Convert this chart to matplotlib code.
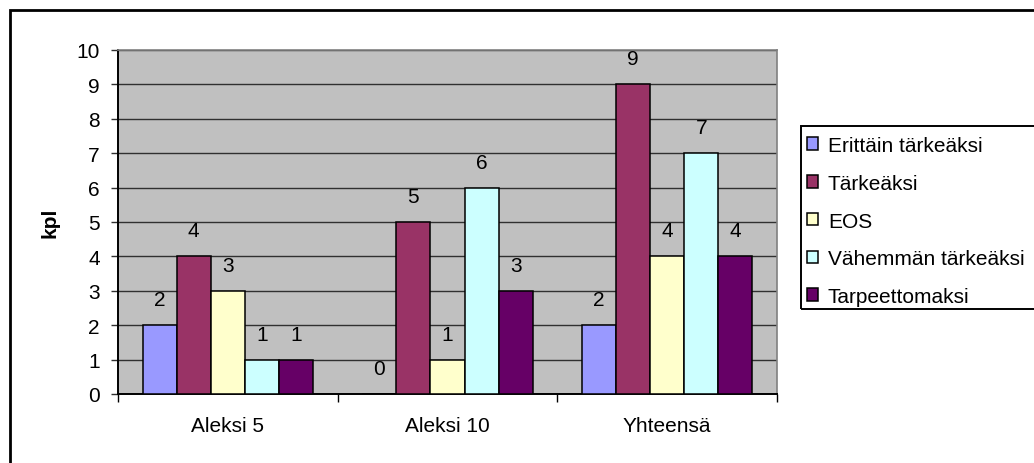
import matplotlib
matplotlib.use("Agg")
import matplotlib.pyplot as plt
from matplotlib.patches import Rectangle
import numpy as np

plt.rcParams['font.family'] = ['Liberation Sans', 'DejaVu Sans']

# survey answers per group
categories = ['Aleksi 5', 'Aleksi 10', 'Yhteensä']
series_names = ['Erittäin tärkeäksi', 'Tärkeäksi', 'EOS',
                'Vähemmän tärkeäksi', 'Tarpeettomaksi']
erittain = [2, 0, 2]
tarkea = [4, 5, 9]
eos = [3, 1, 4]
vahemman = [1, 6, 7]
tarpeeton = [1, 3, 4]
series_values = [erittain, tarkea, eos, vahemman, tarpeeton]
colors = ['#9999FF', '#993366', '#FFFFCC', '#CCFFFF', '#660066']

FS = 15
W, H = 1034, 464
fig = plt.figure(figsize=(W / 100, H / 100), dpi=100)
ax = fig.add_axes([118 / W, 1 - 395 / H, 659 / W, 344 / H])
ax.set_facecolor('#C0C0C0')

x = np.arange(len(categories))
bar_w = 0.155
for i, (name, vals, col) in enumerate(zip(series_names, series_values, colors)):
    pos = x + (i - 2) * bar_w
    ax.bar(pos, vals, width=bar_w, color=col, edgecolor='black',
           linewidth=1.1, label=name, zorder=3)
    for px, v in zip(pos, vals):
        ax.annotate(str(v), (px, v), xytext=(0, 20), textcoords='offset pixels',
                    ha='center', va='baseline', fontsize=FS, zorder=4)

ax.set_xlim(-0.5, 2.5)
ax.set_ylim(0, 10)
ax.set_yticks(range(0, 11))
ax.yaxis.grid(True, color='#303030', linewidth=1.0, zorder=1)
ax.tick_params(axis='y', direction='out', length=5, width=1, pad=8,
               labelsize=FS, color='#303030')

# category labels in the middle, tick marks between groups
ax.set_xticks(x)
ax.set_xticklabels(categories)
ax.set_xticks([-0.5, 0.5, 1.5, 2.5], minor=True)
ax.tick_params(axis='x', which='major', length=0, pad=16, labelsize=FS)
ax.tick_params(axis='x', which='minor', direction='out', length=6, width=1)

for side in ('top', 'right'):
    ax.spines[side].set_color('#808080')
    ax.spines[side].set_linewidth(1.2)
for side in ('left', 'bottom'):
    ax.spines[side].set_color('black')
    ax.spines[side].set_linewidth(1.4)

ax.set_ylabel('kpl', fontsize=FS, fontweight='bold')
ax.yaxis.set_label_coords(-0.089, 0.5)

# chart area border
fig.patches.append(Rectangle((10 / W, -0.1), 1.1, 1 - 11 / H + 0.1,
                             transform=fig.transFigure, fill=False,
                             edgecolor='black', linewidth=2, zorder=0))

# legend box
fig.patches.append(Rectangle((801 / W, 1 - 310 / H), 0.5, 183 / H,
                             transform=fig.transFigure, fill=False,
                             edgecolor='black', linewidth=1.4, zorder=5))
handles, labels = ax.get_legend_handles_labels()
fig.legend(handles, labels, loc='upper left',
           bbox_to_anchor=(807 / W, 1 - 137 / H), frameon=False,
           fontsize=FS, handlelength=0.55, handleheight=0.55,
           handletextpad=0.45, labelspacing=0.9, borderpad=0,
           borderaxespad=0)

fig.savefig('out.png', dpi=100)
